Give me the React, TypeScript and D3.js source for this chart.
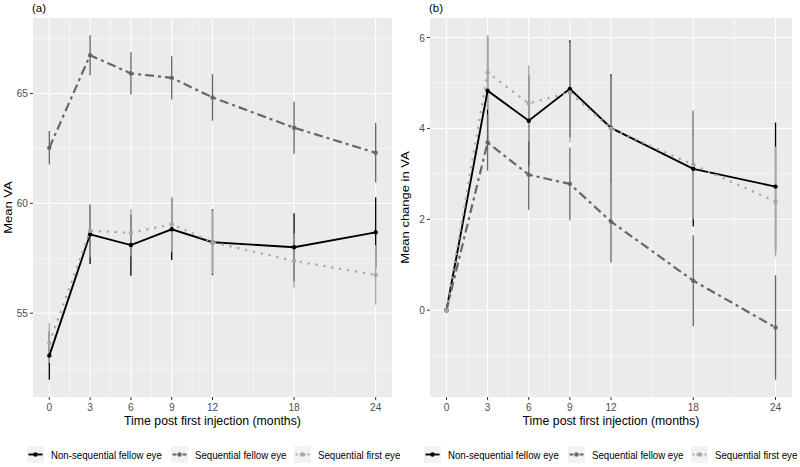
import React from "react";
import * as d3 from "d3";

// months at which VA was measured
const months = [0, 3, 6, 9, 12, 18, 24];
const xBreaks = [0, 3, 6, 9, 12, 18, 24];
const xMinor = [1.5, 4.5, 7.5, 10.5, 15, 21];
const groupNames = ["Non-sequential fellow eye", "Sequential fellow eye", "Sequential first eye"];

// (a) mean VA, with error bar half widths
const nonSeqVA = [53.07, 58.59, 58.1, 58.82, 58.23, 58.0, 58.68];
const nonSeqVAerr = [1.1, 1.35, 1.4, 1.4, 1.5, 1.55, 1.6];
const seqFellowVA = [62.53, 66.74, 65.91, 65.71, 64.82, 63.44, 62.3];
const seqFellowVAerr = [0.76, 0.91, 0.96, 0.98, 1.06, 1.18, 1.35];
const seqFirstVA = [53.64, 58.75, 58.66, 59.05, 58.23, 57.38, 56.74];
const seqFirstVAerr = [0.91, 1.2, 1.08, 1.25, 1.45, 1.24, 1.36];
const yBreaksA = [55, 60, 65];

// (b) mean change in VA
const nonSeqChange = [0, 4.83, 4.17, 4.87, 4.01, 3.11, 2.72];
const nonSeqChangeErr = [0, 1.2, 1.0, 1.07, 1.18, 1.27, 1.41];
const seqFellowChange = [0, 3.69, 2.98, 2.78, 1.95, 0.65, -0.38];
const seqFellowChangeErr = [0, 0.62, 0.77, 0.8, 0.9, 1.0, 1.15];
const seqFirstChange = [0, 5.23, 4.55, 4.79, 4.0, 3.2, 2.39];
const seqFirstChangeErr = [0, 0.82, 0.84, 1.1, 1.15, 1.2, 1.21];
const yBreaksB = [0, 2, 4, 6];

const styles = [
  { color: "#000000", dash: "none", width: 1.9 },
  { color: "#666666", dash: "9 4 3 4", width: 2.2 },
  { color: "#a6a6a6", dash: "2.2 5.8", width: 2.2 },
];

const legendWidths = [111, 90, 82];
const FONT = "'Liberation Sans', Arial, Helvetica, sans-serif";
const top = 18;
const bottom = 397;

type Series = { mean: number[]; err: number[] };

function Panel(props: {
  id: string;
  label: string;
  yTitle: string;
  left: number;
  right: number;
  clipRight: number;
  series: Series[];
  yBreaks: number[];
}) {
  const { id, label, yTitle, left, right, clipRight, series, yBreaks } = props;

  const x = d3.scaleLinear().domain([-1.2, 25.2]).range([left, right]);
  const lo = d3.min(series, (s) => d3.min(s.mean, (m, i) => m - s.err[i])) as number;
  const hi = d3.max(series, (s) => d3.max(s.mean, (m, i) => m + s.err[i])) as number;
  const pad = (hi - lo) * 0.05;
  const y = d3.scaleLinear().domain([lo - pad, hi + pad]).range([bottom, top]);

  const step = yBreaks[1] - yBreaks[0];
  const yMinor = d3
    .range(yBreaks[0] - step * 1.5, yBreaks[yBreaks.length - 1] + step, step)
    .filter((v) => v > y.domain()[0] && v < y.domain()[1]);

  const line = d3
    .line<number>()
    .x((_, i) => x(months[i]))
    .y((d) => y(d));

  const midY = (top + bottom) / 2;
  const midX = (left + right) / 2;

  // legend layout
  let lx = left - 6;
  const items = groupNames.map((name, i) => {
    const item = { name, key: lx, text: lx + 24 };
    lx = lx + 24 + legendWidths[i] + 9;
    return item;
  });

  return (
    <g clipPath={`url(#clip-${id})`}>
      <defs>
        <clipPath id={`clip-${id}`}>
          <rect x={left - 40} y={0} width={clipRight - left + 40} height={467} />
        </clipPath>
      </defs>
      <text x={left - 1} y={11.5} fontSize={11.5} fontFamily={FONT} fill="#000">
        {label}
      </text>
      <rect x={left} y={top} width={right - left} height={bottom - top} fill="#ebebeb" />
      {yMinor.map((v) => (
        <line key={"ym" + v} x1={left} x2={right} y1={y(v)} y2={y(v)} stroke="#fff" strokeWidth={0.55} />
      ))}
      {xMinor.map((v) => (
        <line key={"xm" + v} x1={x(v)} x2={x(v)} y1={top} y2={bottom} stroke="#fff" strokeWidth={0.55} />
      ))}
      {yBreaks.map((v) => (
        <line key={"yb" + v} x1={left} x2={right} y1={y(v)} y2={y(v)} stroke="#fff" strokeWidth={1.1} />
      ))}
      {xBreaks.map((v) => (
        <line key={"xb" + v} x1={x(v)} x2={x(v)} y1={top} y2={bottom} stroke="#fff" strokeWidth={1.1} />
      ))}

      {series.map((s, si) =>
        s.mean.map((m, i) => (
          <line
            key={`e${si}-${i}`}
            x1={x(months[i])}
            x2={x(months[i])}
            y1={y(m - s.err[i])}
            y2={y(m + s.err[i])}
            stroke={styles[si].color}
            strokeWidth={1.3}
          />
        ))
      )}
      {series.map((s, si) => (
        <path
          key={"l" + si}
          d={line(s.mean) || ""}
          fill="none"
          stroke={styles[si].color}
          strokeWidth={styles[si].width}
          strokeDasharray={styles[si].dash}
        />
      ))}
      {series.map((s, si) =>
        s.mean.map((m, i) => (
          <circle key={`p${si}-${i}`} cx={x(months[i])} cy={y(m)} r={2.2} fill={styles[si].color} />
        ))
      )}

      {/* axes */}
      {yBreaks.map((v) => (
        <g key={"yt" + v}>
          <line x1={left - 3} x2={left} y1={y(v)} y2={y(v)} stroke="#333" strokeWidth={1} />
          <text
            transform={`translate(${left - 5},${y(v) + 4}) scale(0.88,1)`}
            textAnchor="end"
            fontSize={11.5}
            fontFamily={FONT}
            fill="#4d4d4d"
          >
            {v}
          </text>
        </g>
      ))}
      {xBreaks.map((v) => (
        <g key={"xt" + v}>
          <line x1={x(v)} x2={x(v)} y1={bottom} y2={bottom + 3} stroke="#333" strokeWidth={1} />
          <text
            transform={`translate(${x(v)},${bottom + 13.8}) scale(0.88,1)`}
            textAnchor="middle"
            fontSize={11.5}
            fontFamily={FONT}
            fill="#4d4d4d"
          >
            {v}
          </text>
        </g>
      ))}
      <text
        transform={`translate(${midX},425.4) scale(0.91,1)`}
        textAnchor="middle"
        fontSize={13.5}
        fontFamily={FONT}
        fill="#000"
      >
        Time post first injection (months)
      </text>
      <text
        transform={`translate(${left - 21},${midY}) rotate(-90) scale(1,0.85)`}
        textAnchor="middle"
        fontSize={13}
        fontFamily={FONT}
        fill="#000"
      >
        {yTitle}
      </text>

      {/* legend */}
      {items.map((it, i) => (
        <g key={"lg" + i}>
          <rect x={it.key} y={446} width={17} height={17} fill="#f2f2f2" />
          <line
            x1={it.key + 1.5}
            x2={it.key + 15.5}
            y1={454.5}
            y2={454.5}
            stroke={styles[i].color}
            strokeWidth={styles[i].width}
            strokeDasharray={i === 0 ? "none" : i === 1 ? "4 2 2 2" : "2 2"}
          />
          <circle cx={it.key + 8.5} cy={454.5} r={2.2} fill={styles[i].color} />
          <text
            transform={`translate(${it.text},458.8) scale(0.88,1)`}
            fontSize={11}
            fontFamily={FONT}
            fill="#000"
          >
            {it.name}
          </text>
        </g>
      ))}
    </g>
  );
}

export default function App() {
  const seriesA: Series[] = [
    { mean: nonSeqVA, err: nonSeqVAerr },
    { mean: seqFellowVA, err: seqFellowVAerr },
    { mean: seqFirstVA, err: seqFirstVAerr },
  ];
  const seriesB: Series[] = [
    { mean: nonSeqChange, err: nonSeqChangeErr },
    { mean: seqFellowChange, err: seqFellowChangeErr },
    { mean: seqFirstChange, err: seqFirstChangeErr },
  ];
  return (
    <svg
      width={800}
      height={467}
      style={{ position: "absolute", left: 0, top: 0, background: "#fff" }}
    >
      <Panel id="a" label="(a)" yTitle="Mean VA" left={33} right={392} clipRight={400} series={seriesA} yBreaks={yBreaksA} />
      <Panel id="b" label="(b)" yTitle="Mean change in VA" left={430} right={792} clipRight={800} series={seriesB} yBreaks={yBreaksB} />
    </svg>
  );
}
